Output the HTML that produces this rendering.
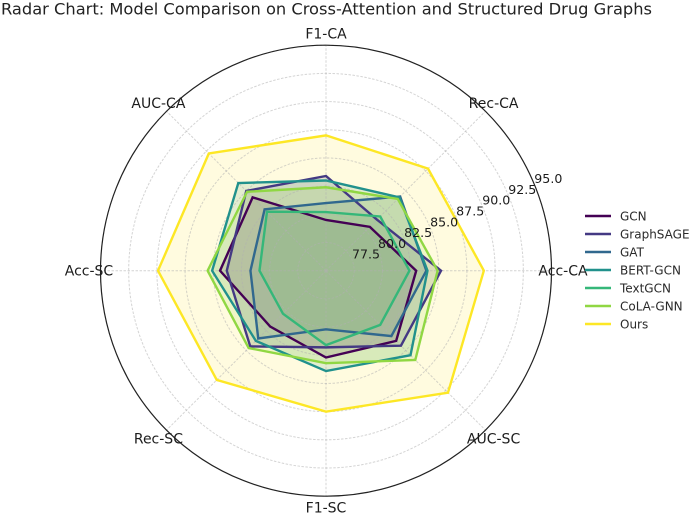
<!DOCTYPE html>
<html lang="en">
<head>
<meta charset="utf-8">
<title>Radar Chart</title>
<style>
html,body{margin:0;padding:0;background:#fff;}
body{width:692px;height:514px;overflow:hidden;}
svg{display:block;font-family:"DejaVu Sans","Liberation Sans",sans-serif;}
</style>
</head>
<body>
<svg id="chart" width="692" height="514" viewBox="0 0 692 514" xmlns="http://www.w3.org/2000/svg">
<rect width="692" height="514" fill="#ffffff"/>
<text x="326.5" y="14.3" text-anchor="middle" font-size="16.28" fill="#222">Radar Chart: Model Comparison on Cross-Attention and Structured Drug Graphs</text>
</svg>
<script>
const categories = ["Acc-CA", "Rec-CA", "F1-CA", "AUC-CA", "Acc-SC", "Rec-SC", "F1-SC", "AUC-SC"];
const radialTicks = [77.5, 80, 82.5, 85, 87.5, 90, 92.5, 95];
const seriesNames = ["GCN", "GraphSAGE", "GAT", "BERT-GCN", "TextGCN", "CoLA-GNN", "Ours"];
const seriesColors = ["#440154", "#443983", "#31688e", "#21918c", "#35b779", "#90d743", "#fde725"];
const gcnValues = [83, 80.5, 79.5, 84.2, 84.4, 82, 82.7, 83.8];
const graphSageValues = [85.2, 81.4, 83.4, 85, 83.8, 84.5, 81.8, 84.4];
const gatValues = [83.9, 84.3, 81, 82.7, 81.7, 83.5, 80.2, 83.2];
const bertGcnValues = [84, 84.2, 83, 86, 85.1, 83.8, 83.9, 85.6];
const textGcnValues = [82.4, 81.8, 80.2, 82.4, 80.9, 80.4, 81.6, 81.8];
const colaGnnValues = [84.9, 84, 82.4, 84.9, 85.5, 84.7, 83.2, 86.2];
const oursValues = [89, 87.8, 87, 89.7, 89.9, 88.7, 87.5, 90.3];
const seriesValues = [gcnValues, graphSageValues, gatValues, bertGcnValues, textGcnValues, colaGnnValues, oursValues];

const svg = document.getElementById('chart');
const NS = 'http://www.w3.org/2000/svg';
const cx = 326, cy = 270.7, rMaxPx = 225.5, vMin = 75, vMax = 95;
const labelRadius = 237;

function rScale(v) { return (v - vMin) / (vMax - vMin) * rMaxPx; }
function angleOf(i) { return i / categories.length * 2 * Math.PI; }
function px(r, a) { return cx + r * Math.cos(a); }
function py(r, a) { return cy - r * Math.sin(a); }
function make(tag, parent) {
  const el = document.createElementNS(NS, tag);
  parent.appendChild(el);
  return el;
}
function pointsFor(values) {
  return values.map(function (v, i) {
    const a = angleOf(i);
    return px(rScale(v), a).toFixed(2) + ',' + py(rScale(v), a).toFixed(2);
  }).join(' ');
}

// Fills
seriesValues.forEach(function (values, s) {
  const fill = make('polygon', svg);
  
  
  fill.setAttribute('points', pointsFor(values));
  fill.setAttribute('fill', seriesColors[s]);
  fill.setAttribute('fill-opacity', '0.15');
});

// Grid rings
radialTicks.forEach(function (t) {
  const ring = make('circle', svg);
  
  
  ring.setAttribute('cx', cx);
  ring.setAttribute('cy', cy);
  ring.setAttribute('r', rScale(t));
  ring.setAttribute('fill', 'none');
  ring.setAttribute('stroke', '#b0b0b0');
  ring.setAttribute('stroke-opacity', '0.55');
  ring.setAttribute('stroke-width', '1');
  ring.setAttribute('stroke-dasharray', '2.5 1.5');
});

// Grid spokes
categories.forEach(function (c, i) {
  const spoke = make('line', svg);
  
  
  spoke.setAttribute('x1', cx);
  spoke.setAttribute('y1', cy);
  spoke.setAttribute('x2', px(rMaxPx, angleOf(i)));
  spoke.setAttribute('y2', py(rMaxPx, angleOf(i)));
  spoke.setAttribute('stroke', '#b0b0b0');
  spoke.setAttribute('stroke-opacity', '0.55');
  spoke.setAttribute('stroke-width', '1');
  spoke.setAttribute('stroke-dasharray', '2.5 1.5');
});

// Series lines
seriesValues.forEach(function (values, s) {
  const line = make('polygon', svg);
  
  
  line.setAttribute('points', pointsFor(values));
  line.setAttribute('fill', 'none');
  line.setAttribute('stroke', seriesColors[s]);
  line.setAttribute('stroke-width', '2.4');
  line.setAttribute('stroke-linejoin', 'miter');
});

// Outer spine
const spine = make('circle', svg);


spine.setAttribute('cx', cx);
spine.setAttribute('cy', cy);
spine.setAttribute('r', rMaxPx);
spine.setAttribute('fill', 'none');
spine.setAttribute('stroke', '#222');
spine.setAttribute('stroke-width', '1.2');

// Radial tick labels
const labelAngle = 22.5 * Math.PI / 180;
radialTicks.forEach(function (t) {
  const label = make('text', svg);
  
  
  label.setAttribute('x', px(rScale(t), labelAngle) + 14);
  label.setAttribute('y', py(rScale(t), labelAngle) - 1.3);
  label.setAttribute('text-anchor', 'middle');
  label.setAttribute('font-size', '12.6');
  label.setAttribute('fill', '#1c1c1c');
  label.textContent = t.toFixed(1);
});

// Category labels
categories.forEach(function (c, i) {
  const label = make('text', svg);
  
  
  label.setAttribute('x', px(labelRadius, angleOf(i)));
  label.setAttribute('y', py(labelRadius, angleOf(i)) + 5);
  label.setAttribute('text-anchor', 'middle');
  label.setAttribute('font-size', '14');
  label.setAttribute('fill', '#1c1c1c');
  label.textContent = c;
});

// Legend
const legendX = 585, legendTop = 216, legendStep = 18;
seriesNames.forEach(function (name, s) {
  const y = legendTop + s * legendStep;
  const swatch = make('line', svg);
  
  
  swatch.setAttribute('x1', legendX);
  swatch.setAttribute('x2', legendX + 26);
  swatch.setAttribute('y1', y);
  swatch.setAttribute('y2', y);
  swatch.setAttribute('stroke', seriesColors[s]);
  swatch.setAttribute('stroke-width', '2.4');
  const label = make('text', svg);
  
  
  label.setAttribute('x', legendX + 35);
  label.setAttribute('y', y + 4.3);
  label.setAttribute('font-size', '12');
  label.setAttribute('fill', '#2a2a2a');
  label.textContent = name;
});
</script>
</body>
</html>
